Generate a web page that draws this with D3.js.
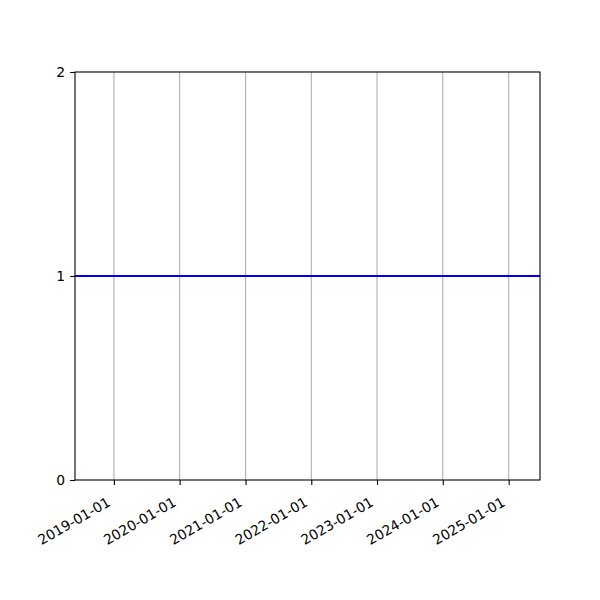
<!DOCTYPE html>
<html>
<head>
<meta charset="utf-8">
<script src="https://cdn.jsdelivr.net/npm/d3@7.9.0/dist/d3.min.js"></script>
<style>
  html, body { margin: 0; padding: 0; background: #fff; }
  svg { display: block; font-family: "DejaVu Sans", sans-serif; }
</style>
</head>
<body>
<svg id="chart" width="600" height="600"></svg>
<script>
// Data
const xDomain = ['2018-05-30', '2025-06-24'];
const xTicks = ['2019-01-01', '2020-01-01', '2021-01-01', '2022-01-01', '2023-01-01', '2024-01-01', '2025-01-01'];
const yTicks = [0, 1, 2];
const lineDates = ['2018-05-30', '2025-06-24'];
const lineValues = [1, 1];

const parse = d3.utcParse('%Y-%m-%d');
const fmt = d3.utcFormat('%Y-%m-%d');

const width = 600, height = 600;
const margin = { top: 72, right: 60, bottom: 120, left: 75 };

const svg = d3.select('#chart');
svg.append('rect').attr('width', width).attr('height', height).attr('fill', '#fff');

const x = d3.scaleUtc()
  .domain(xDomain.map(parse))
  .range([margin.left, width - margin.right]);

const y = d3.scaleLinear()
  .domain([0, 2])
  .range([height - margin.bottom, margin.top]);

// Vertical grid lines
svg.append('g')
  .selectAll('line')
  .data(xTicks.map(parse))
  .join('line')
  .attr('x1', (d) => x(d)).attr('x2', (d) => x(d))
  .attr('y1', margin.top).attr('y2', height - margin.bottom)
  .attr('stroke', '#b0b0b0')
  .attr('stroke-width', 1.1);

// The line
const line = d3.line()
  .x((d) => x(d[0]))
  .y((d) => y(d[1]));

svg.append('path')
  .datum(lineDates.map((d, i) => [parse(d), lineValues[i]]))
  .attr('d', line)
  .attr('fill', 'none')
  .attr('stroke', '#0000ff')
  .attr('stroke-width', 2.1);

// Axes
const xAxis = d3.axisBottom(x)
  .tickValues(xTicks.map(parse))
  .tickFormat(fmt)
  .tickSize(4.9)
  .tickPadding(4.9);

const gx = svg.append('g')
  .attr('transform', `translate(0,${height - margin.bottom})`)
  .call(xAxis);
gx.select('.domain').remove();
gx.selectAll('.tick line').attr('stroke', '#000').attr('stroke-width', 1.1);
gx.selectAll('.tick text')
  .attr('font-size', 13.9)
  .attr('font-family', '"DejaVu Sans", sans-serif')
  .attr('fill', '#000')
  .attr('text-anchor', 'end')
  .attr('dy', null)
  .attr('y', null)
  .attr('transform', 'translate(-3,25) rotate(-30)');

const yAxis = d3.axisLeft(y)
  .tickValues(yTicks)
  .tickFormat(d3.format('d'))
  .tickSize(4.9)
  .tickPadding(4.9);

const gy = svg.append('g')
  .attr('transform', `translate(${margin.left},0)`)
  .call(yAxis);
gy.select('.domain').remove();
gy.selectAll('.tick line').attr('stroke', '#000').attr('stroke-width', 1.1);
gy.selectAll('.tick text')
  .attr('font-size', 13.9)
  .attr('font-family', '"DejaVu Sans", sans-serif')
  .attr('fill', '#000');

// Frame
svg.append('rect')
  .attr('x', margin.left).attr('y', margin.top)
  .attr('width', width - margin.left - margin.right)
  .attr('height', height - margin.top - margin.bottom)
  .attr('fill', 'none')
  .attr('stroke', '#000')
  .attr('stroke-width', 1.1);
</script>
</body>
</html>
